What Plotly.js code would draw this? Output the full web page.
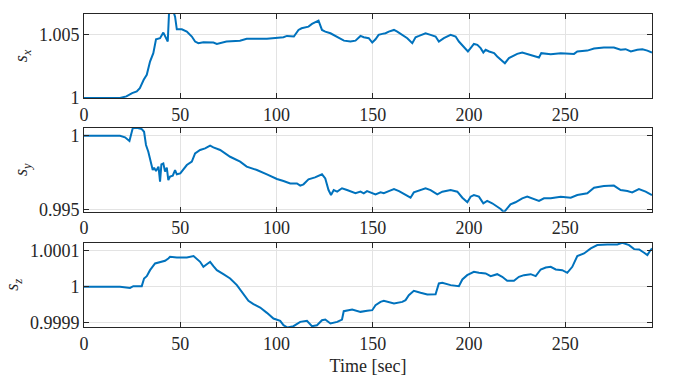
<!DOCTYPE html>
<html>
<head>
<meta charset="utf-8">
<script src="https://cdn.plot.ly/plotly-3.0.1.min.js"></script>
<style>html,body{margin:0;padding:0;background:#fff;}#chart{width:684px;height:380px;}</style>
</head>
<body>
<div id="chart"></div>
<script>
// s_x series
const tX = [
  0, 18.7, 22, 25, 27.4, 29, 31, 32.6, 34.3, 36,
  37.4, 39.5, 41.2, 42.5, 43.5, 44.2, 46.4, 47.3, 48.2, 50.8,
  53.4, 56, 57.7, 59.4, 62, 67.2, 69, 74, 81, 84.5,
  95, 103.6, 105.4, 109, 111.4, 113, 116.6, 118.4, 121, 121.8,
  123.6, 125.3, 128, 129.7, 131.5, 135, 138.4, 141, 143.6, 145.3,
  147.9, 149.7, 151.4, 153, 154.9, 156.6, 158.3, 161, 162.7, 165.3,
  167.9, 170.5, 172.2, 174, 177.4, 180, 182.6, 184.3, 186.9, 190.4,
  193, 194.7, 197.3, 199.4, 200.8, 202.5, 204.3, 206, 207.4, 208.6,
  210.4, 213, 214.6, 216.4, 218.6, 220.7, 222.4, 225, 227.6, 230.2,
  233.7, 236.3, 237.5, 242.4, 247.6, 254.5, 256.2, 261.4, 264.9, 270,
  275.2, 278.7, 281.3, 284, 287.4, 290, 292.6, 295
];
const sX = [
  1, 1, 1.00013, 1.00039, 1.00052, 1.00078, 1.00143, 1.00182, 1.00286, 1.00352,
  1.00461, 1.00469, 1.00513, 1.00469, 1.00443, 1.0068, 1.0068, 1.00638, 1.00539, 1.00539,
  1.00521, 1.00482, 1.00443, 1.0043, 1.00438, 1.00435, 1.00424, 1.00443, 1.0045, 1.00464,
  1.00464, 1.00477, 1.00487, 1.00482, 1.00534, 1.00547, 1.0056, 1.00581, 1.00599, 1.00607,
  1.00534, 1.00521, 1.00508, 1.00495, 1.00477, 1.0045, 1.00443, 1.0045, 1.00487, 1.00477,
  1.00469, 1.00435, 1.00461, 1.00495, 1.00503, 1.00508, 1.00521, 1.00534, 1.00521, 1.00495,
  1.00469, 1.0043, 1.00477, 1.00487, 1.00508, 1.00495, 1.00482, 1.00443, 1.00469, 1.00495,
  1.00482, 1.00443, 1.00404, 1.00365, 1.00391, 1.00424, 1.00417, 1.00391, 1.00357, 1.00378,
  1.00365, 1.00352, 1.00326, 1.00305, 1.00273, 1.00313, 1.00326, 1.00346, 1.00357, 1.00344,
  1.00331, 1.00318, 1.00352, 1.00344, 1.00352, 1.00346, 1.00365, 1.00372, 1.00388, 1.00396,
  1.00396, 1.00378, 1.00383, 1.00365, 1.00378, 1.00383, 1.00372, 1.00357
];

// s_y series
const tY = [
  0, 18.7, 21.3, 23.6, 24.4, 25.3, 27.4, 30, 31.2, 32.2,
  33.4, 34.7, 35.7, 36.4, 37.4, 38.7, 39.5, 40.2, 41.2, 42.1,
  43, 43.8, 44.7, 46.1, 47.3, 48.2, 50, 53.4, 56, 57.7,
  60.3, 62.9, 65.5, 67.2, 70.7, 75.9, 81.1, 84.5, 89.8, 95,
  100.2, 103.6, 107.1, 110.6, 112.3, 114, 116.6, 120, 121.8, 123.6,
  125.3, 127, 128.3, 129.7, 131.5, 134, 136.6, 139.2, 141, 143.6,
  145.3, 147, 149.7, 151.4, 154, 155.7, 158.3, 161, 163.6, 167,
  169.6, 171.3, 174.8, 177.4, 180, 183.5, 186.1, 190.4, 193.9, 196.5,
  199.1, 200.8, 202.5, 205.1, 207.4, 209.4, 212, 214.6, 216.4, 218.1,
  219.8, 221.5, 224.1, 227.6, 230.2, 232.8, 236.3, 238.9, 242.4, 247.6,
  252.8, 256.2, 261.4, 264.9, 270, 275.2, 278.7, 282.2, 284.7, 288.2,
  291.7, 295
];
const sY = [
  1, 1, 0.99989, 0.99964, 1.00005, 1.0005, 1.00054, 1.00045, 1.00027, 0.99937,
  0.99891, 0.99824, 0.99767, 0.99783, 0.9976, 0.9979, 0.99688, 0.99805, 0.99812, 0.99756,
  0.99783, 0.99699, 0.99722, 0.99729, 0.99767, 0.99738, 0.99744, 0.99801, 0.99824, 0.9988,
  0.99903, 0.99914, 0.99932, 0.99921, 0.99903, 0.99857, 0.99824, 0.9979, 0.99767, 0.99738,
  0.99706, 0.99692, 0.99676, 0.99676, 0.99661, 0.9967, 0.99704, 0.99717, 0.99726, 0.99738,
  0.9971, 0.99631, 0.99597, 0.99631, 0.9962, 0.99643, 0.99631, 0.99615, 0.99609, 0.9962,
  0.99609, 0.99624, 0.99609, 0.99602, 0.99615, 0.99609, 0.99624, 0.99638, 0.99624, 0.99597,
  0.99579, 0.99615, 0.99631, 0.99643, 0.99631, 0.99602, 0.9962, 0.99631, 0.9962, 0.99579,
  0.99548, 0.99586, 0.99597, 0.99586, 0.99541, 0.99557, 0.99541, 0.99518, 0.99502, 0.9948,
  0.99507, 0.99534, 0.99548, 0.99575, 0.99586, 0.99575, 0.99557, 0.99575, 0.99575, 0.99586,
  0.99579, 0.99597, 0.99609, 0.99647, 0.99658, 0.99661, 0.99631, 0.99624, 0.99615, 0.99638,
  0.9962, 0.99597
];

// s_z series
const tZ = [
  0, 18.7, 23.9, 25.6, 30, 31.2, 32.6, 34.3, 36.9, 39.5,
  42.1, 43.8, 44.7, 48.2, 53.4, 56.9, 58.6, 60.3, 62, 63.7,
  65.5, 67.2, 69, 72.4, 75.9, 79.4, 82.8, 85.4, 88, 91.5,
  95, 98.4, 101.9, 103.6, 105.7, 108.8, 112.3, 115.8, 118.4, 121,
  123.6, 125.3, 128, 131.5, 134, 134.9, 139.3, 143.6, 147.1, 149.7,
  151.4, 154, 155.7, 161, 165.3, 167, 168.7, 171.3, 174.8, 178.3,
  182.6, 184.3, 186.1, 190.4, 194.7, 196.5, 199, 202.5, 205.1, 208.6,
  211.2, 214.6, 217.2, 219.8, 223.3, 225.9, 228.5, 232, 234.6, 237.2,
  239.8, 242.4, 245, 248.4, 251, 253.6, 256.2, 259.7, 263.2, 266.6,
  271.8, 277, 279.6, 283.1, 285.7, 288.3, 290.9, 292.6, 294, 295
];
const sZ = [
  1, 1, 0.999997, 1.0000019, 1.0000019, 1.0000233, 1.0000298, 1.0000465, 1.0000651, 1.0000679,
  1.0000726, 1.0000791, 1.0000837, 1.0000819, 1.0000819, 1.0000856, 1.0000763, 1.0000698, 1.0000558, 1.0000623,
  1.0000698, 1.0000577, 1.0000465, 1.0000353, 1.0000233, 1.0000047, 0.9999814, 0.9999609, 0.9999516, 0.9999423,
  0.9999274, 0.9999116, 0.9999051, 0.999893, 0.9998865, 0.9998902, 0.9999023, 0.9999051, 0.9998902, 0.999893,
  0.999907, 0.9999088, 0.9998977, 0.9999023, 0.9999088, 0.999932, 0.9999367, 0.9999302, 0.999933, 0.9999349,
  0.9999488, 0.9999581, 0.9999609, 0.9999535, 0.9999581, 0.9999628, 0.9999767, 0.9999888, 0.9999833, 0.9999786,
  0.9999795, 1.0000093, 1.0000112, 1.0000047, 1.0000019, 1.0000205, 1.0000326, 1.0000419, 1.0000391, 1.0000372,
  1.0000298, 1.0000353, 1.0000279, 1.0000167, 1.0000167, 1.0000279, 1.0000326, 1.0000353, 1.0000298, 1.0000484,
  1.000054, 1.0000558, 1.0000484, 1.0000465, 1.0000391, 1.0000558, 1.0000856, 1.000093, 1.000107, 1.0001163,
  1.0001181, 1.0001181, 1.0001228, 1.0001163, 1.0001051, 1.0001042, 1.0000949, 1.0000884, 1.0001005, 1.000107
];

const xTicks = [0, 50, 100, 150, 200, 250];
const yTicksX = [1, 1.005];
const yLabelsX = ['1', '1.005'];
const yTicksY = [0.995, 1];
const yLabelsY = ['0.995', '1'];
const yTicksZ = [0.9999, 1, 1.0001];
const yLabelsZ = ['0.9999', '1', '1.0001'];

const lineColor = '#0072BD';
const axCol = '#262626';
const fontFam = 'Liberation Serif, Times New Roman, DejaVu Serif, serif';

const traces = [
  {x: tX, y: sX, xaxis: 'x', yaxis: 'y', type: 'scatter', mode: 'lines', line: {color: lineColor, width: 2}},
  {x: tY, y: sY, xaxis: 'x2', yaxis: 'y2', type: 'scatter', mode: 'lines', line: {color: lineColor, width: 2}},
  {x: tZ, y: sZ, xaxis: 'x3', yaxis: 'y3', type: 'scatter', mode: 'lines', line: {color: lineColor, width: 2}}
];

function xax(anchor, title) {
  const a = {
    anchor: anchor, domain: [0, 1], range: [0, 295],
    tickvals: xTicks, ticks: 'inside', ticklen: 5, tickcolor: axCol,
    showline: true, mirror: 'ticks', linecolor: axCol, linewidth: 1,
    showgrid: true, gridcolor: '#e3e3e3', gridwidth: 1, zeroline: false,
    tickfont: {family: fontFam, size: 18, color: axCol}
  };
  if (title) a.title = {text: title, font: {family: fontFam, size: 18, color: axCol}, standoff: 6};
  return a;
}
function yax(anchor, dom, range, vals, labels, title) {
  return {
    anchor: anchor, domain: dom, range: range,
    tickvals: vals, ticktext: labels, ticks: 'inside', ticklen: 5, tickcolor: axCol,
    showline: true, mirror: 'ticks', linecolor: axCol, linewidth: 1,
    showgrid: true, gridcolor: '#e3e3e3', gridwidth: 1, zeroline: false,
    tickfont: {family: fontFam, size: 18, color: axCol},
    title: {text: title, font: {family: fontFam, size: 18, color: axCol}, standoff: 6}
  };
}

const layout = {
  width: 684, height: 380,
  font: {family: fontFam, size: 18, color: axCol},
  margin: {l: 84, r: 32, t: 14, b: 53, pad: 0},
  paper_bgcolor: '#ffffff', plot_bgcolor: '#ffffff',
  showlegend: false,
  xaxis: xax('y', null),
  xaxis2: xax('y2', null),
  xaxis3: xax('y3', 'Time [sec]'),
  yaxis: yax('x', [0.7316, 1], [1, 1.00659], yTicksX, yLabelsX, '<i>s</i><sub><i>x</i></sub>'),
  yaxis2: yax('x2', [0.3684, 0.6367], [0.99484, 1.000543], yTicksY, yLabelsY, '<i>s</i><sub><i>y</i></sub>'),
  yaxis3: yax('x3', [0, 0.2693], [0.999888, 1.000123], yTicksZ, yLabelsZ, '<i>s</i><sub><i>z</i></sub>')
};

Plotly.newPlot('chart', traces, layout, {staticPlot: true, displayModeBar: false});
</script>
</body>
</html>
